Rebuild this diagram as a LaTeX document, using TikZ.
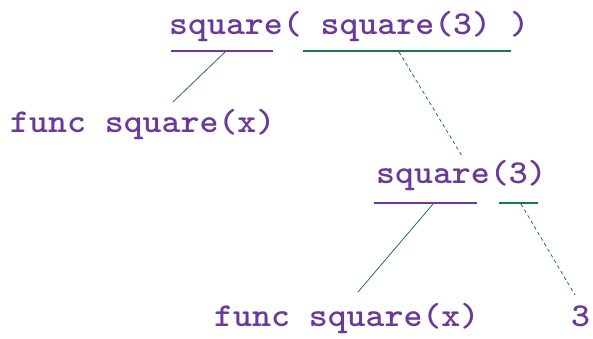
\documentclass[tikz,border=0pt]{standalone}
\usepackage{fontspec}
\newfontfamily\codefont{lmmonolt10-bold.otf}[FakeStretch=1.08]
\definecolor{codepurple}{RGB}{106,58,152}
\definecolor{linegreen}{RGB}{26,118,80}
\tikzset{
  code/.style={font=\codefont\fontsize{33.4}{38}\selectfont, text=codepurple, inner sep=0pt, anchor=base west},
  purpleline/.style={draw=codepurple, line width=1.2pt},
  greenline/.style={draw=linegreen, line width=1.2pt},
  link/.style={draw=linegreen, line width=0.8pt},
  dlink/.style={draw=linegreen, line width=0.8pt, dash pattern=on 3.5pt off 3pt},
}
\begin{document}
\begin{tikzpicture}[x=1pt,y=-1pt]
\useasboundingbox (0,0) rectangle (593,338);
% texts
\node[code] (top) at (169,34) {square( square(3) )};
\node[code] (funcA) at (10,132) {func square(x)};
\node[code] (mid) at (376,183) {square(3)};
\node[code] (funcB) at (214,326) {func square(x)};
\node[code] (three) at (571,326) {3};
% underline end points
\coordinate (u1a) at (171,51); \coordinate (u1b) at (273,51);
\coordinate (u2a) at (303,51); \coordinate (u2b) at (511,51);
\coordinate (u3a) at (374,203); \coordinate (u3b) at (477,203);
\coordinate (u4a) at (499,203); \coordinate (u4b) at (538,203);
\coordinate (c1) at (225,52); \coordinate (e1) at (173,102);
\coordinate (c2) at (399,52); \coordinate (e2) at (462,156);
\coordinate (c3) at (433,204); \coordinate (e3) at (358,292);
\coordinate (c4) at (521,204); \coordinate (e4) at (575,295);
\path[purpleline] (u1a) -- (u1b);
\path[greenline] (u2a) -- (u2b);
\path[purpleline] (u3a) -- (u3b);
\path[greenline] (u4a) -- (u4b);
\path[link] (c1) -- (e1);
\path[dlink] (c2) -- (e2);
\path[link] (c3) -- (e3);
\path[dlink] (c4) -- (e4);
\end{tikzpicture}
\end{document}
